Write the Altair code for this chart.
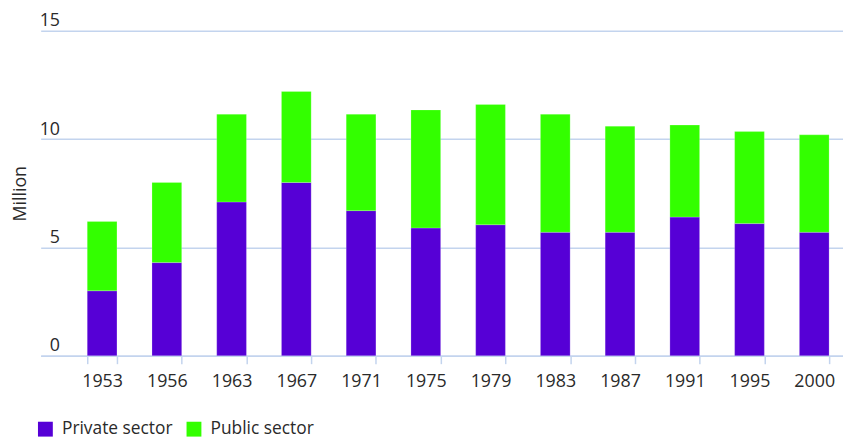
import altair as alt
import pandas as pd

years = ["1953", "1956", "1963", "1967", "1971", "1975", "1979", "1983", "1987", "1991", "1995", "2000"]
private = [3.0, 4.3, 7.1, 8.0, 6.7, 5.9, 6.05, 5.7, 5.7, 6.4, 6.1, 5.7]
total = [6.2, 8.0, 11.15, 12.2, 11.15, 11.35, 11.6, 11.15, 10.6, 10.65, 10.35, 10.2]
public = [round(t - p, 2) for t, p in zip(total, private)]
sectors = ["Private sector", "Public sector"]
colors = ["#5600d6", "#33ff00"]

rows = []
for y, pv, pb in zip(years, private, public):
    rows.append({"year": y, "sector": sectors[0], "value": pv, "order": 0})
    rows.append({"year": y, "sector": sectors[1], "value": pb, "order": 1})
df = pd.DataFrame(rows)

FONT = "Open Sans"
GRID = "#c3d4ee"
TEXT = "#2a2a2a"

chart = alt.Chart(df).mark_bar(stroke="#ffffff", strokeOpacity=0.35, strokeWidth=0.6).encode(
    x=alt.X("year:N", sort=years,
            scale=alt.Scale(paddingInner=0.541, paddingOuter=0.467, align=0.77),
            axis=alt.Axis(title=None, labelAngle=0, labelFont=FONT, labelFontSize=18,
                          labelColor=TEXT, ticks=True, tickBand="extent", tickSize=8,
                          tickColor=GRID, tickWidth=1.5, tickOpacity=1,
                          domainColor=GRID, domainWidth=1.5, labelPadding=9, grid=False)),
    y=alt.Y("value:Q", stack="zero",
            scale=alt.Scale(domain=[0, 15], nice=False),
            axis=alt.Axis(title="Million", values=[0, 5, 10, 15], titleFont=FONT,
                          titleFontSize=18, titleFontWeight="normal", titleColor=TEXT,
                          titleAngle=-90, titleX=-20, titleY=164, titleAlign="center",
                          titleBaseline="middle",
                          labelFont=FONT, labelFontSize=18, labelColor=TEXT,
                          labelAlign="right", labelBaseline="alphabetic", labelOffset=-5,
                          labelPadding=-19, ticks=False, tickSize=0, domain=False,
                          grid=True, gridColor=GRID, gridWidth=1.5)),
    color=alt.Color("sector:N", sort=sectors,
                    scale=alt.Scale(domain=sectors, range=colors),
                    legend=alt.Legend(title=None, orient="none", direction="horizontal",
                                      legendX=-4, legendY=393,
                                      symbolType="square", symbolSize=225,
                                      symbolStrokeWidth=0, labelFont=FONT,
                                      labelFontSize=17.5, labelColor=TEXT,
                                      labelOffset=8, columnPadding=12)),
    order=alt.Order("order:Q"),
).properties(
    width=810, height=328,
    autosize=alt.AutoSizeParams(type="none"),
    padding={"left": 33, "top": 21, "right": 0, "bottom": 84},
).configure_view(stroke=None)

chart.save("out.html", embed_options={"renderer": "svg", "actions": False})
